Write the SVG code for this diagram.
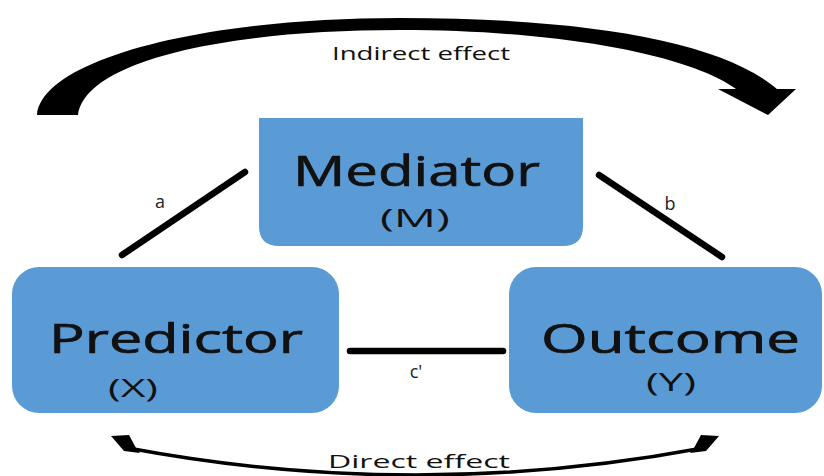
<svg xmlns="http://www.w3.org/2000/svg" width="824" height="476" viewBox="0 0 824 476">
  <style>
    .box { fill: #5B9BD5; }
    .big { font-family: "Open Sans", "Liberation Sans", sans-serif; fill: #111; stroke: #111; stroke-width: 0.7; }
    .sub { font-family: "Open Sans", "Liberation Sans", sans-serif; fill: #111; }
    .lbl { font-family: "Open Sans", "Liberation Sans", sans-serif; font-size: 18px; fill: #1b1b2b; }
    .cap { font-family: "Open Sans", "Liberation Sans", sans-serif; font-size: 18px; fill: #111; }
    .path-line { stroke: #000; stroke-width: 6.5; stroke-linecap: round; fill: none; }
  </style>

  <rect width="824" height="476" fill="#fff"/>

  <!-- connectors and effect arrows -->
  <g id="connectors">
    <line class="path-line" x1="122" y1="255" x2="245" y2="172"/>
    <line class="path-line" x1="599" y1="175" x2="722" y2="257"/>
    <line class="path-line" x1="350" y1="351" x2="503" y2="351"/>

    <!-- indirect effect: thick curved arrow over the top -->
    <path id="indirect-arrow" fill="#000"
      d="M 37,115 C 42,60 200,18 400,18 C 580,18 720,40 777,89 L 796,89 L 768,115 L 718,89 L 736,89 C 690,55 560,30 400,30 C 220,30 85,62 78,115 Z"/>

    <!-- direct effect: thin curved arrow along the bottom -->
    <path id="direct-arrow" fill="none" stroke="#000" stroke-width="3.5"
      d="M 128,448 Q 415,502 703,448"/>
    <polygon fill="#000" points="111,436 129,435 136,448 140,453 124,451"/>
    <polygon fill="#000" points="719,436 701,435 694,448 690,453 706,451"/>
  </g>

  <g id="mediator">
    <path class="box" d="M 259,118 H 583 V 226 Q 583,246 563,246 H 279 Q 259,246 259,226 Z"/>
    <text class="big" x="293" y="186" font-size="42" textLength="247" lengthAdjust="spacingAndGlyphs">Mediator</text>
    <text class="sub" x="380" y="227" font-size="26" textLength="70" lengthAdjust="spacingAndGlyphs">(M)</text>
  </g>

  <g id="predictor">
    <rect class="box" x="12" y="267" width="327" height="146" rx="27" ry="27"/>
    <text class="big" x="49" y="353" font-size="40" textLength="254" lengthAdjust="spacingAndGlyphs">Predictor</text>
    <text class="sub" x="108" y="397" font-size="26" textLength="50" lengthAdjust="spacingAndGlyphs">(X)</text>
  </g>

  <g id="outcome">
    <rect class="box" x="509" y="267" width="313" height="146" rx="27" ry="27"/>
    <text class="big" x="541" y="353" font-size="40" textLength="259" lengthAdjust="spacingAndGlyphs">Outcome</text>
    <text class="sub" x="646" y="391" font-size="26" textLength="50" lengthAdjust="spacingAndGlyphs">(Y)</text>
  </g>

  <g id="labels">
    <text class="lbl" x="160" y="208" text-anchor="middle">a</text>
    <text class="lbl" x="670" y="210" text-anchor="middle">b</text>
    <text class="lbl" x="416" y="378" text-anchor="middle">c'</text>
    <text class="cap" x="332" y="60" textLength="178" lengthAdjust="spacingAndGlyphs">Indirect effect</text>
    <text class="cap" x="328" y="468" textLength="182" lengthAdjust="spacingAndGlyphs">Direct effect</text>
  </g>
</svg>
